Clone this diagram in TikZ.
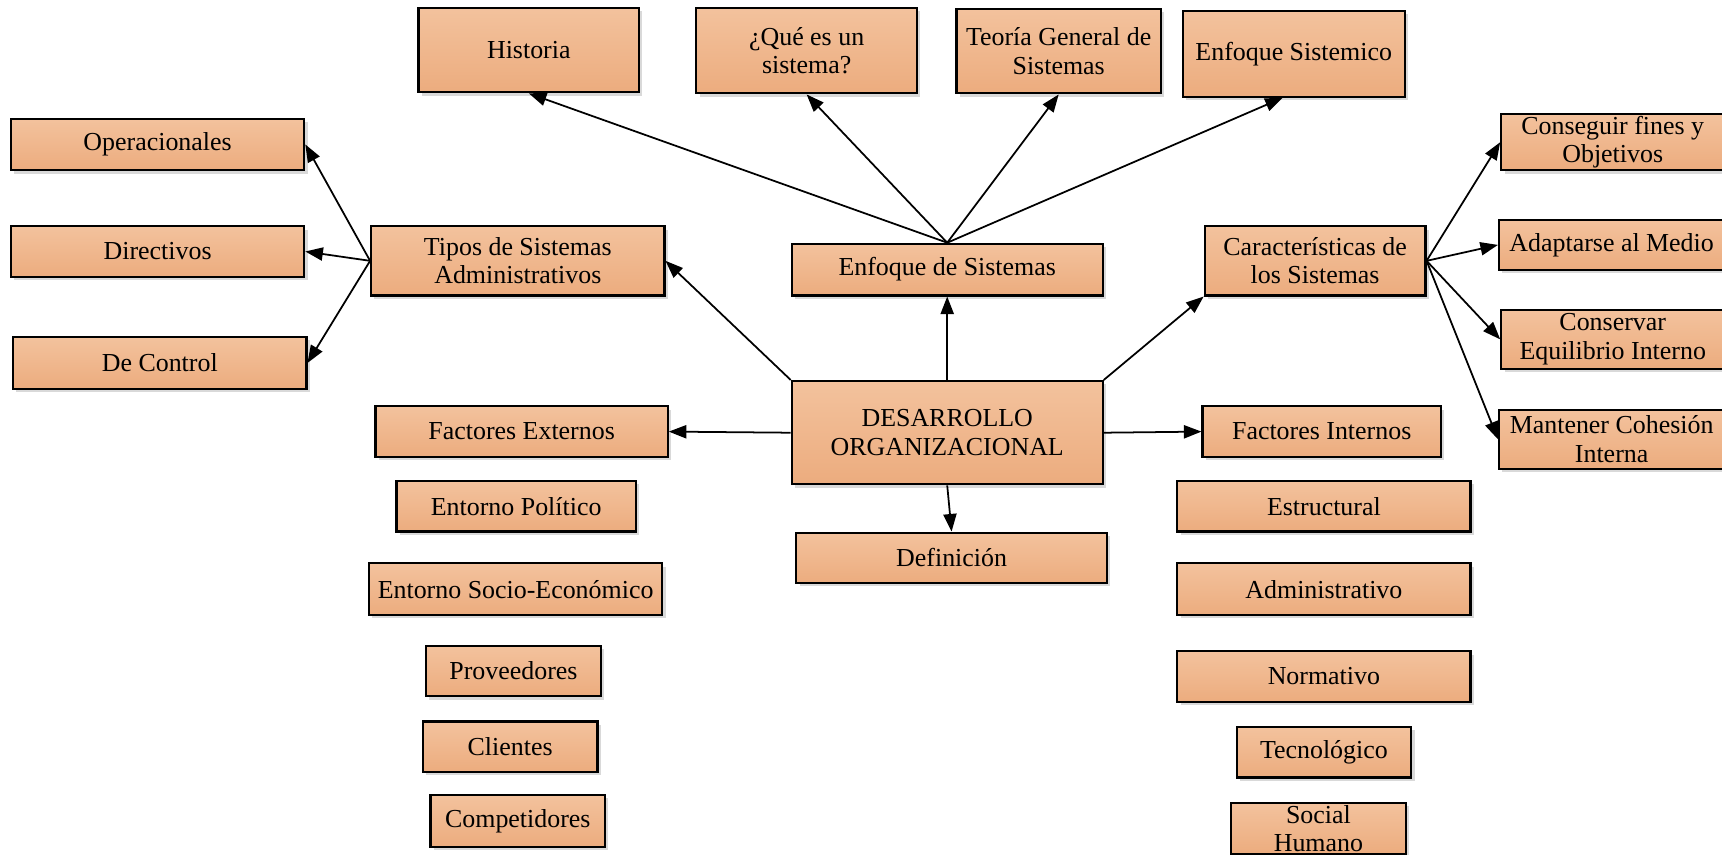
\documentclass[tikz,border=0pt]{standalone}
\usepackage{fontspec}
\setmainfont{Liberation Serif}
\usetikzlibrary{arrows.meta,shadows}
\definecolor{boxtop}{HTML}{F3C29D}
\definecolor{boxbot}{HTML}{ECAC7E}
\tikzset{
  bx/.style={rectangle, draw=black, line width=1pt, top color=boxtop, bottom color=boxbot,
    inner sep=0pt, align=center, font=\fontsize{11.8}{13}\selectfont,
    drop shadow={shadow xshift=1.5pt, shadow yshift=-1.5pt, fill=black!15, opacity=1}},
  arr/.style={-{Triangle[length=8pt,width=6pt]}, line width=0.8pt, draw=black}
}
\newcommand\bx[6]{\node[bx, minimum width={(#4-#2)*0.5pt}, minimum height={(#5-#3)*0.5pt}] (#1) at ({(#2+#4)/2},{(#3+#5)/2}) {#6};}
\begin{document}
\begin{tikzpicture}[x=0.5pt,y=-0.5pt]
\useasboundingbox (0,0) rectangle (1568,778);
\clip (0,0) rectangle (1568,778);
\bx{hist}{381}{7}{582}{84}{Historia}
\bx{que}{634}{7}{835}{85}{¿Qué es un\\sistema?}
\bx{teo}{871}{8}{1057}{85}{Teoría General de\\Sistemas}
\bx{enfs}{1077}{10}{1279}{88}{Enfoque Sistemico}
\bx{oper}{10}{108}{277}{155}{Operacionales}
\bx{dir}{10}{206}{277}{252}{Directivos}
\bx{ctrl}{12}{307}{279}{354}{De Control}
\bx{tipos}{338}{206}{605}{269}{Tipos de Sistemas\\Administrativos}
\bx{enf}{721}{222}{1004}{269}{Enfoque de Sistemas}
\bx{car}{1097}{206}{1298}{269}{Características de\\los Sistemas}
\bx{cons}{1367}{104}{1570}{155}{Conseguir fines y\\Objetivos}
\bx{adap}{1365}{200}{1570}{246}{Adaptarse al Medio}
\bx{consv}{1367}{282}{1570}{336}{Conservar\\Equilibrio Interno}
\bx{mant}{1365}{373}{1570}{427}{Mantener Cohesión\\Interna}
\bx{do}{721}{347}{1004}{441}{DESARROLLO\\ORGANIZACIONAL}
\bx{fe}{342}{370}{608}{416}{Factores Externos}
\bx{fi}{1095}{370}{1312}{416}{Factores Internos}
\bx{def}{725}{485}{1008}{531}{Definición}
\bx{pol}{361}{438}{579}{484}{Entorno Político}
\bx{soc}{336}{513}{603}{560}{Entorno Socio-Económico}
\bx{prov}{388}{588}{547}{634}{Proveedores}
\bx{cli}{385}{657}{544}{703}{Clientes}
\bx{comp}{392}{724}{551}{771}{Competidores}
\bx{est}{1072}{438}{1339}{484}{Estructural}
\bx{adm}{1072}{513}{1339}{560}{Administrativo}
\bx{norm}{1072}{593}{1339}{639}{Normativo}
\bx{tec}{1126}{662}{1285}{708}{Tecnológico}
\bx{sh}{1121}{731}{1280}{778}{Social\\Humano}
% connectors
\draw[arr] (do.north) -- (enf.south);
\draw[arr] (enf.north) -- (hist.south);
\draw[arr] (enf.north) -- (que.south);
\draw[arr] (enf.north) -- (teo.south);
\draw[arr] (enf.north) -- ([xshift=-5pt]enfs.south);
\draw[arr] (do.north west) -- (tipos.east);
\draw[arr] (tipos.west) -- (oper.east);
\draw[arr] (tipos.west) -- (dir.east);
\draw[arr] (tipos.west) -- (ctrl.east);
\draw[arr] (do.north east) -- (car.south west);
\draw[arr] (car.east) -- (cons.west);
\draw[arr] (car.east) -- (adap.west);
\draw[arr] (car.east) -- (consv.west);
\draw[arr] (car.east) -- (mant.west);
\draw[arr] (do.west) -- (fe.east);
\draw[arr] (do.east) -- (fi.west);
\draw[arr] (do.south) -- (def.north);
\end{tikzpicture}
\end{document}
